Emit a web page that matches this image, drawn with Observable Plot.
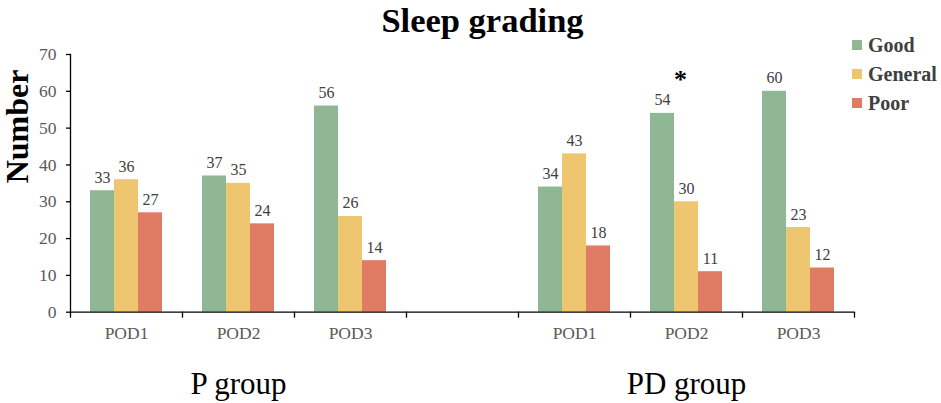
<!DOCTYPE html>
<html>
<head>
<meta charset="utf-8">
<script src="https://cdn.jsdelivr.net/npm/d3@7"></script>
<script src="https://cdn.jsdelivr.net/npm/@observablehq/plot@0.6"></script>
<style>
  body { margin: 0; background: #fff; font-family: "Liberation Serif", serif; }
  #wrap { position: relative; width: 941px; height: 403px; }
  #legend { position: absolute; left: 852px; top: 30.5px; }
  .row { display: flex; align-items: center; height: 29px; }
  .sw { width: 10px; height: 10px; margin-right: 6px; }
  .lab { font-family: "Liberation Serif", serif; font-weight: bold; font-size: 20px; color: #404040; }
</style>
</head>
<body>
<div id="wrap"><div id="chart"></div><div id="legend"></div></div>
<script>
const title = "Sleep grading";
const yLabel = "Number";
const groups = ["P", "PD"];
const groupLabels = ["P group", "PD group"];
const days = ["POD1", "POD2", "POD3"];
const grades = ["Good", "General", "Poor"];
const colors = ["#8fb794", "#efc670", "#e07c64"];
// order: P POD1, P POD2, P POD3, PD POD1, PD POD2, PD POD3
const good    = [33, 37, 56, 34, 54, 60];
const general = [36, 35, 26, 43, 30, 23];
const poor    = [27, 24, 14, 18, 11, 12];
const yTicks = [0, 10, 20, 30, 40, 50, 60, 70];
const sigMarks = [{group: "PD", day: "POD2", grade: "Good", value: 54, text: "*"}];

const gap = " ";
const slots = [...days.map(d => "P|" + d), gap, ...days.map(d => "PD|" + d)];
const series = [good, general, poor];
const data = [];
groups.forEach((g, gi) => days.forEach((d, di) => grades.forEach((gr, ri) => {
  data.push({slot: g + "|" + d, grade: gr, value: series[ri][gi * 3 + di]});
})));
const midSlots = groups.map(g => g + "|" + days[1]);
const tickShape = {draw(ctx, l) { ctx.moveTo(0, 0); ctx.lineTo(0, -l); }};

const chart = Plot.plot({
  width: 941,
  height: 403,
  marginLeft: 67,
  marginRight: 84,
  marginTop: 54,
  marginBottom: 91.3,
  style: {fontFamily: "Liberation Serif", background: "white", overflow: "visible"},
  fx: {domain: slots, padding: 0, axis: null, label: null},
  x: {domain: grades, paddingInner: 0, paddingOuter: 0.76, axis: null},
  y: {domain: [0, 70], axis: null},
  color: {domain: grades, range: colors},
  marks: [
    Plot.barY(data, {fx: "slot", x: "grade", y: "value", fill: "grade"}),
    Plot.text(data, {fx: "slot", x: "grade", y: "value", text: d => String(d.value), lineAnchor: "bottom", dy: -8, fontSize: 16, fill: "#404040"}),
    Plot.text(sigMarks, {fx: d => d.group + "|" + d.day, x: "grade", y: "value", text: "text", dx: 18, dy: -34, fontSize: 26, fontWeight: "bold", fill: "#000"}),
    Plot.ruleY([0], {stroke: "#000", strokeWidth: 1.3}),
    Plot.frame({anchor: "left", facet: "super", stroke: "#000", strokeWidth: 1.3}),
    Plot.axisY(yTicks, {anchor: "left", tickSize: 4, tickFormat: () => "", stroke: "#000", strokeWidth: 1.3, label: null}),
    Plot.text(yTicks, {fx: () => slots[0], y: d => d, frameAnchor: "left", textAnchor: "end", dx: -14, text: d => String(d), fontSize: 17.5, fill: "#595959"}),
    Plot.vector(slots, {fx: d => d, frameAnchor: "bottom-left", length: 5, rotate: 180, anchor: "start", shape: tickShape, stroke: "#000", strokeWidth: 1.3}),
    Plot.vector([slots[slots.length - 1]], {fx: d => d, frameAnchor: "bottom-right", length: 5, rotate: 180, anchor: "start", shape: tickShape, stroke: "#000", strokeWidth: 1.3}),
    Plot.text(slots, {fx: d => d, frameAnchor: "bottom", lineAnchor: "top", dy: 14, text: d => (d.split("|")[1] || ""), fontSize: 17.5, fill: "#595959"}),
    Plot.text(midSlots, {fx: d => d, frameAnchor: "bottom", lineAnchor: "top", dy: 60, text: (d, i) => groupLabels[i], fontSize: 31, fill: "#000"}),
    Plot.text([yLabel], {fx: () => slots[0], frameAnchor: "left", rotate: -90, dx: -53, text: d => d, fontSize: 32, fontWeight: "bold", fill: "#000"}),
    Plot.text([title], {fx: () => slots[3], frameAnchor: "top", lineAnchor: "bottom", dy: -22.5, dx: 20, text: d => d, fontSize: 34.5, fontWeight: "bold", fill: "#000"})
  ]
});
document.getElementById("chart").appendChild(chart);

const legend = document.getElementById("legend");
grades.forEach((g, i) => {
  const row = document.createElement("div");
  row.className = "row";
  const sw = document.createElement("div");
  sw.className = "sw";
  sw.style.background = colors[i];
  const lab = document.createElement("span");
  lab.className = "lab";
  lab.textContent = g;
  row.appendChild(sw);
  row.appendChild(lab);
  legend.appendChild(row);
});
</script>
</body>
</html>
